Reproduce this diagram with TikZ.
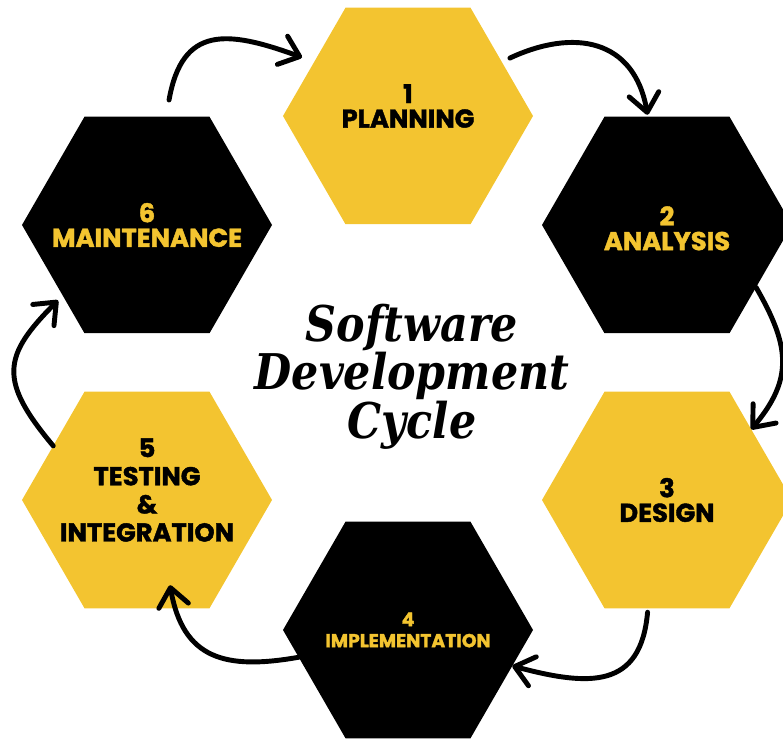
\documentclass[tikz,border=0pt]{standalone}
\usepackage{fontspec}
\setsansfont{Poppins}[BoldFeatures={FakeBold=1.6}]
\newfontfamily\titlefont{DejaVu Serif}[FakeStretch=0.87]
\usetikzlibrary{shapes.geometric,arrows.meta}
\definecolor{hexyellow}{RGB}{243,196,48}
\tikzset{
  hex/.style={regular polygon, regular polygon sides=6, minimum size=7.5cm, inner sep=0pt, outer sep=0pt},
  hexY/.style={hex, fill=hexyellow},
  hexK/.style={hex, fill=black},
  lbl/.style={font=\sffamily\bfseries\fontsize{22}{21}\selectfont, align=center, inner sep=0pt},
  lblK/.style={lbl, text=black},
  lblY/.style={lbl, text=hexyellow},
  cyc/.style={line width=4.2pt, line cap=round, -{Straight Barb[length=5.5mm,width=9mm,round]}},
}
\begin{document}
\begin{tikzpicture}[x=0.03cm,y=0.03cm]
  \useasboundingbox (0,0) rectangle (783,740);
  % the six phases
  \node[hexY] (h1) at (408,624) {};
  \node[hexK] (h2) at (667,515) {};
  \node[hexY] (h3) at (667,240) {};
  \node[hexK] (h4) at (408,110) {};
  \node[hexY] (h5) at (147,240) {};
  \node[hexK] (h6) at (147,515) {};
  \node[lblK, yshift=3mm] (t1) at (h1) {1\\PLANNING};
  \node[lblY, yshift=-1mm] (t2) at (h2) {2\\ANALYSIS};
  \node[lblK] (t3) at (h3) {3\\DESIGN};
  \node[lblY, font=\sffamily\bfseries\fontsize{16}{18}\selectfont] (t4) at (h4) {4\\IMPLEMENTATION};
  \node[lblK, yshift=3mm, font=\sffamily\bfseries\fontsize{22}{24}\selectfont] (t5) at (h5) {5\\TESTING\\\&\\INTEGRATION};
  \node[lblY] (t6) at (h6) {6\\MAINTENANCE};
  % title
  \node[font=\titlefont\bfseries\itshape\fontsize{42}{37}\selectfont, align=center] (title) at (412,363) {Software\\Development\\Cycle};
  % arrows round the cycle
  \draw[cyc, shorten <=5.1mm, shorten >=3.9mm] (h6.80) to[out=80,in=160,looseness=1.5] (h1.150);
  \draw[cyc, shorten <=2.7mm, shorten >=0.6mm] (h1.30) to[out=25,in=100,looseness=1.3] (h2.100);
  \draw[cyc] (h2.-35) to[out=-60,in=50,looseness=1.2] (h3.40);
  \draw[cyc, shorten <=1.2mm] (h3.-100) to[out=-95,in=-15,looseness=1.4] (h4.-19);
  \draw[cyc] (h4.-166) to[out=190,in=-80,looseness=1.3] ([shift={(-6,23)}]h5.-75);
  \draw[cyc, shorten >=2mm] (h5.150) to[out=130,in=-135,looseness=1.45] (h6.-140);
\end{tikzpicture}
\end{document}
